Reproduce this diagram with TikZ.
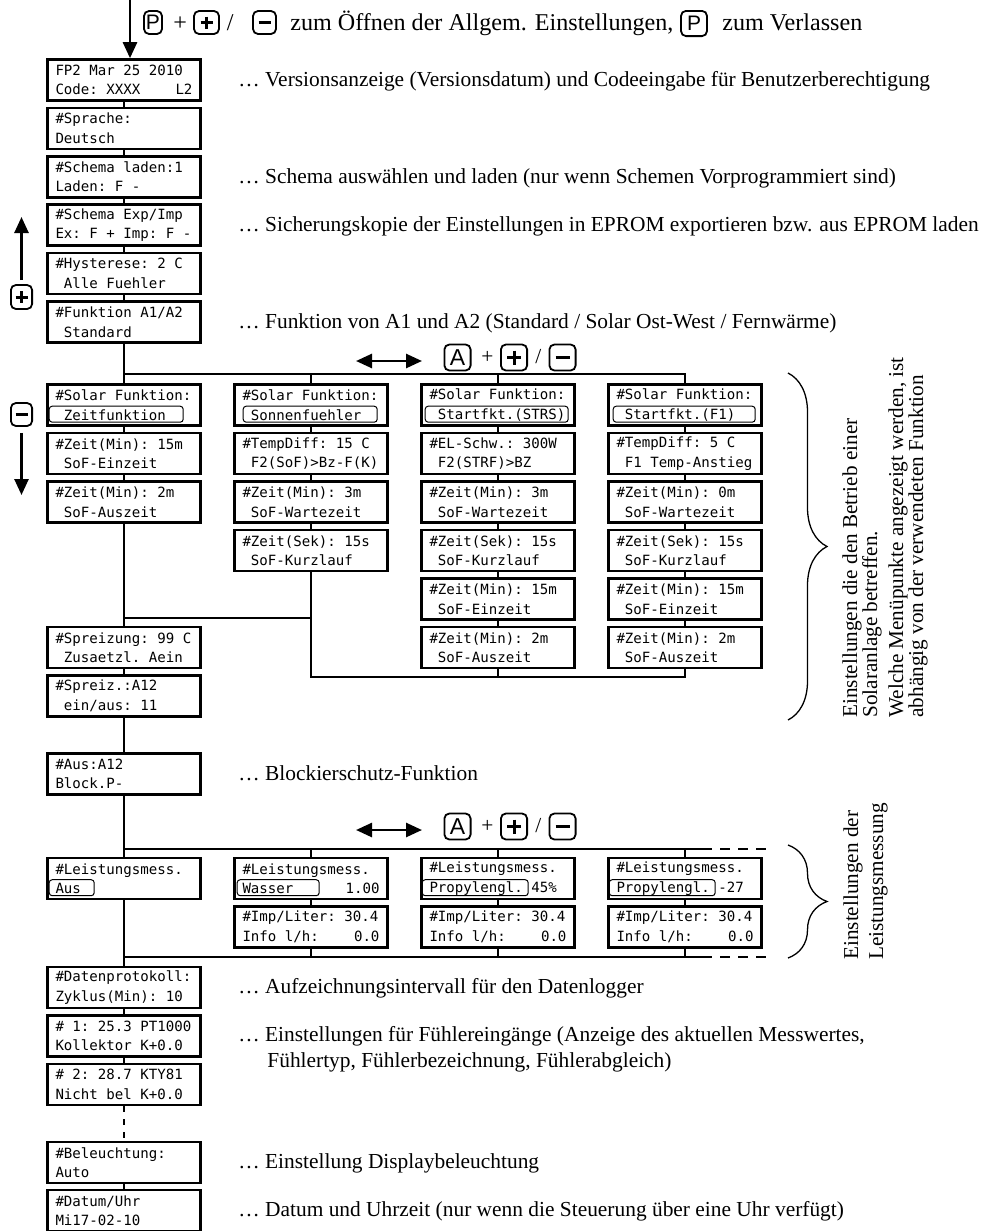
\documentclass[tikz,border=0pt]{standalone}
\usepackage{fontspec}
\setmainfont{Liberation Serif}
\newfontfamily\lcdfont{DejaVu Sans Mono}
\newfontfamily\keyfont{Liberation Sans}
\usetikzlibrary{arrows.meta,decorations.pathreplacing}
% inverse field on the second display line
\newcommand{\hlmark}[3]{\draw[hl] ([shift={(#2,23)}]#1.north west) rectangle ([shift={(#3,39)}]#1.north west);}
% symbols on the keys
\newcommand{\keyplus}[2]{\draw[keysym] (#1.center) ++(-#2,0) -- ++(2*#2,0) (#1.center) ++(0,-#2) -- ++(0,2*#2);}
\newcommand{\keyminus}[2]{\draw[keysym] (#1.center) ++(-#2,0) -- ++(2*#2,0);}
\begin{document}
\begin{tikzpicture}[x=0.5pt,y=-0.5pt,
	lcd/.style={draw,line width=1.3pt,fill=white,text width=68.5pt,inner xsep=4pt,inner ysep=0pt,minimum height=20.5pt,align=left,font=\lcdfont\fontsize{7.05pt}{9.75pt}\selectfont,execute at begin node={\spaceskip=\fontcharwd\font`0\relax\xspaceskip=\spaceskip}},
	hl/.style={line width=0.5pt,rounded corners=1.5pt},
	key/.style={draw,line width=0.9pt,rounded corners=2.5pt,inner sep=0pt,minimum width=9pt,minimum height=11.5pt,font=\keyfont\fontsize{10.5pt}{12pt}\selectfont},
	bigkey/.style={key,minimum width=13.1pt,minimum height=13pt,font=\keyfont\fontsize{11.5pt}{13pt}\selectfont},
	keysym/.style={line width=1.5pt},
	txt/.style={inner sep=0pt,anchor=base west,font=\fontsize{10.7pt}{13pt}\selectfont},
	head/.style={txt,font=\fontsize{12.05pt}{14pt}\selectfont},
	rtxt/.style={inner sep=0pt,anchor=north west,rotate=90,align=left,font=\fontsize{10.6pt}{10pt}\selectfont},
	conn/.style={line width=0.6pt},
	bigarrow/.style={line width=1.3pt,-{Triangle[length=8pt,width=7pt]}},
	brace/.style={decorate,decoration={brace,amplitude=19.5pt},line width=0.65pt}]
	\useasboundingbox (0,0) rectangle (980,1231);
	% Keys on top
	\node[key] (kp1) at (153,22.5) {P};
	\node[head] (tp1) at (173,30) {+};
	\node[key,minimum width=12.5pt] (kpl) at (206.5,22.5) {};
	\keyplus{kpl}{6}
	\node[head] (tp2) at (226.5,30) {/};
	\node[key,minimum width=11.5pt] (kmi) at (264.5,22.5) {};
	\keyminus{kmi}{6}
	\node[head] (tp3) at (290,30) {zum Öffnen der Allgem. Einstellungen,};
	\node[key,minimum width=13pt,minimum height=12.6pt] (kp2) at (694,23.5) {P};
	\node[head] (tp4) at (722,30) {zum Verlassen};
	% General settings
	\node[lcd] (v1) at (124,80) {FP2 Mar 25 2010\\Code: XXXX\hfill L2};
	\node[lcd] (v2) at (124,128.4) {\#Sprache:\\Deutsch};
	\node[lcd] (v3) at (124,176.8) {\#Schema laden:1\\Laden: F -};
	\node[lcd] (v4) at (124,225.2) {\#Schema Exp/Imp\\Ex: F + Imp: F -};
	\node[lcd] (v5) at (124,273.6) {\#Hysterese: 2 C\\~Alle Fuehler};
	\node[lcd] (v6) at (124,322) {\#Funktion A1/A2\\~Standard};
	\coordinate (start) at (130,0);
	\draw[bigarrow] (start) -- (start |- v1.north);
	\foreach \a/\b in {v1/v2,v2/v3,v3/v4,v4/v5,v5/v6}
	{\draw[conn] (\a) -- (\b);}
	% Up and down
	\node[key,minimum width=10.6pt,minimum height=12pt] (kup) at (21.5,297) {};
	\keyplus{kup}{6}
	\node[key,minimum width=10.6pt,minimum height=11.5pt] (kdn) at (21.5,414.5) {};
	\keyminus{kdn}{6}
	\coordinate (uptip) at (22,217);
	\coordinate (downtip) at (22,495);
	\draw[bigarrow,shorten <=2pt] (kup.north) -- (kup.north |- uptip);
	\draw[bigarrow,shorten <=3pt] (kdn.south) -- (kdn.south |- downtip);
	% Solar functions
	\node[lcd] (s11) at (124,405) {\#Solar Funktion:\\~Zeitfunktion};
	\node[lcd] (s12) at (124,453.5) {\#Zeit(Min): 15m\\~SoF-Einzeit};
	\node[lcd] (s13) at (124,502) {\#Zeit(Min): 2m\\~SoF-Auszeit};
	\foreach \t [count=\i] in {{\#Solar Funktion:\\~Sonnenfuehler},{\#TempDiff: 15 C\\~F2(SoF)>Bz-F(K)},{\#Zeit(Min): 3m\\~SoF-Wartezeit},{\#Zeit(Sek): 15s\\~SoF-Kurzlauf}}
	{\node[lcd] (s2\i) at (311,{356.5+48.5*\i}) {\t};}
	\foreach \t [count=\i] in {{\#Solar Funktion:\\~Startfkt.(STRS)},{\#EL-Schw.: 300W\\~F2(STRF)>BZ},{\#Zeit(Min): 3m\\~SoF-Wartezeit},{\#Zeit(Sek): 15s\\~SoF-Kurzlauf},{\#Zeit(Min): 15m\\~SoF-Einzeit},{\#Zeit(Min): 2m\\~SoF-Auszeit}}
	{\node[lcd] (s3\i) at (498,{356.5+48.5*\i}) {\t};}
	\foreach \t [count=\i] in {{\#Solar Funktion:\\~Startfkt.(F1)},{\#TempDiff: 5 C\\~F1 Temp-Anstieg},{\#Zeit(Min): 0m\\~SoF-Wartezeit},{\#Zeit(Sek): 15s\\~SoF-Kurzlauf},{\#Zeit(Min): 15m\\~SoF-Einzeit},{\#Zeit(Min): 2m\\~SoF-Auszeit}}
	{\node[lcd] (s4\i) at (685,{356.5+48.5*\i}) {\t};}
	\hlmark{s11}{3}{137}
	\hlmark{s21}{10}{144}
	\hlmark{s31}{5}{148}
	\hlmark{s41}{6}{148}
	% Spreizung
	\node[lcd] (sp1) at (124,647.5) {\#Spreizung: 99 C\\~Zusaetzl. Aein};
	\node[lcd] (sp2) at (124,696) {\#Spreiz.:A12\\~ein/aus: 11};
	\node[lcd] (aus) at (124,774) {\#Aus:A12\\Block.P-};
	\draw[conn] (sp1) -- (sp2);
	\draw[conn] (sp2) -- (aus);
	% Connectors solar
	\coordinate (bus1) at (0,374);
	\coordinate (bus2) at (0,618);
	\coordinate (bus3) at (0,677);
	\draw[conn] (v6) -- (s11);
	\draw[conn] (v6.south |- bus1) -| (s41.north);
	\draw[conn] (s21.north |- bus1) -- (s21.north);
	\draw[conn] (s31.north |- bus1) -- (s31.north);
	\draw[conn] (s11) -- (s12);
	\draw[conn] (s12) -- (s13);
	\foreach \i [count=\j from 2] in {1,2,3}
	{\draw[conn] (s2\i) -- (s2\j);}
	\foreach \i [count=\j from 2] in {1,...,5}
	{\draw[conn] (s3\i) -- (s3\j); \draw[conn] (s4\i) -- (s4\j);}
	\draw[conn] (s13) -- (sp1);
	\draw[conn] (s24.south) |- (sp1.north |- bus2);
	\draw[conn] (s24.south) |- (s36.south |- bus3) -- (s36.south);
	\draw[conn] (s36.south |- bus3) -| (s46.south);
	% Double arrows and keys
	\foreach \r/\y in {1/357.5,2/826.5}
	{
		\coordinate (la\r) at (356,\y+3.5);
		\coordinate (ra\r) at (422,\y+3.5);
		\draw[bigarrow,{Triangle[length=8pt,width=7pt]}-{Triangle[length=8pt,width=7pt]}] (la\r) -- (ra\r);
		\node[bigkey] (ka\r) at (457.5,\y) {A};
		\node[txt] (ta\r) at (481,\y+6) {+};
		\node[bigkey] (kpa\r) at (514,\y) {};
		\keyplus{kpa\r}{7}
		\node[txt] (tb\r) at (535,\y+6) {/};
		\node[bigkey] (kma\r) at (562.5,\y) {};
		\keyminus{kma\r}{7}
	}
	% Power measurement
	\node[lcd] (l11) at (124,878.5) {\#Leistungsmess.\\Aus};
	\node[lcd] (l21) at (311,878.5) {\#Leistungsmess.\\Wasser\hfill 1.00};
	\node[lcd] (l31) at (498,878.5) {\#Leistungsmess.\\Propylengl.~45\%};
	\node[lcd] (l41) at (685,878.5) {\#Leistungsmess.\\Propylengl.~-27};
	\foreach \col/\x in {2/311,3/498,4/685}
	{\node[lcd] (l\col2) at (\x,927) {\#Imp/Liter: 30.4\\Info l/h:\hfill 0.0};}
	\hlmark{l11}{3}{48}
	\hlmark{l21}{4}{86}
	\hlmark{l31}{2}{108}
	\hlmark{l41}{2}{108}
	\coordinate (bus4) at (0,849);
	\coordinate (bus5) at (0,957);
	\coordinate (e4) at (712,849);
	\coordinate (d4) at (770,849);
	\coordinate (e5) at (712,957);
	\coordinate (d5) at (770,957);
	\draw[conn] (aus) -- (l11);
	\draw[conn] (aus.south |- bus4) -- (e4);
	\draw[conn] (aus.south |- bus5) -- (e5);
	\draw[conn,dash pattern=on 5pt off 4pt,dash phase=5pt] (e4) -- (d4);
	\draw[conn,dash pattern=on 5pt off 4pt,dash phase=5pt] (e5) -- (d5);
	\foreach \col in {2,3,4}
	{
		\draw[conn] (l\col1.north |- bus4) -- (l\col1.north);
		\draw[conn] (l\col1) -- (l\col2);
		\draw[conn] (l\col2.south) -- (l\col2.south |- bus5);
	}
	% Remaining settings
	\node[lcd] (dat) at (124,987.5) {\#Datenprotokoll:\\Zyklus(Min): 10};
	\node[lcd] (f1) at (124,1036) {\# 1: 25.3 PT1000\\Kollektor K+0.0};
	\node[lcd] (f2) at (124,1084.5) {\# 2: 28.7 KTY81\\Nicht bel K+0.0};
	\node[lcd] (bel) at (124,1162.5) {\#Beleuchtung:\\Auto};
	\node[lcd] (uhr) at (124,1210.5) {\#Datum/Uhr\\Mi17-02-10};
	\draw[conn] (l11) -- (dat);
	\draw[conn] (dat) -- (f1);
	\draw[conn] (f1) -- (f2);
	\draw[conn,dash pattern=on 3pt off 3.5pt] (f2) -- (bel);
	\draw[conn] (bel) -- (uhr);
	% Descriptions
	\node[txt] (d1) at (238,86) {… Versionsanzeige (Versionsdatum) und Codeeingabe für Benutzerberechtigung};
	\node[txt] (d2) at (238,183) {… Schema auswählen und laden (nur wenn Schemen Vorprogrammiert sind)};
	\node[txt] (d3) at (238,231) {… Sicherungskopie der Einstellungen in EPROM exportieren bzw. aus EPROM laden};
	\node[txt] (d4) at (238,328) {… Funktion von A1 und A2 (Standard / Solar Ost-West / Fernwärme)};
	\node[txt] (d5) at (238,780) {… Blockierschutz-Funktion};
	\node[txt] (d6) at (238,993) {… Aufzeichnungsintervall für den Datenlogger};
	\node[txt] (d7) at (238,1041) {… Einstellungen für Fühlereingänge (Anzeige des aktuellen Messwertes,};
	\node[txt] (d8) at (267,1067) {Fühlertyp, Fühlerbezeichnung, Fühlerabgleich)};
	\node[txt] (d9) at (238,1168) {… Einstellung Displaybeleuchtung};
	\node[txt] (d10) at (238,1216) {… Datum und Uhrzeit (nur wenn die Steuerung über eine Uhr verfügt)};
	% Braces
	\draw[brace] (788,373) -- (788,720);
	\draw[brace] (788,845) -- (788,958);
	\node[rtxt] (r1) at (842,718) {Einstellungen die den Betrieb einer\\Solaranlage betreffen.\\[3pt]Welche Menüpunkte angezeigt werden, ist\\abhängig von der verwendeten Funktion};
	\node[rtxt,font=\fontsize{10.6pt}{12.5pt}\selectfont] (r2) at (843,960) {Einstellungen der\\Leistungsmessung};
\end{tikzpicture}
\end{document}
